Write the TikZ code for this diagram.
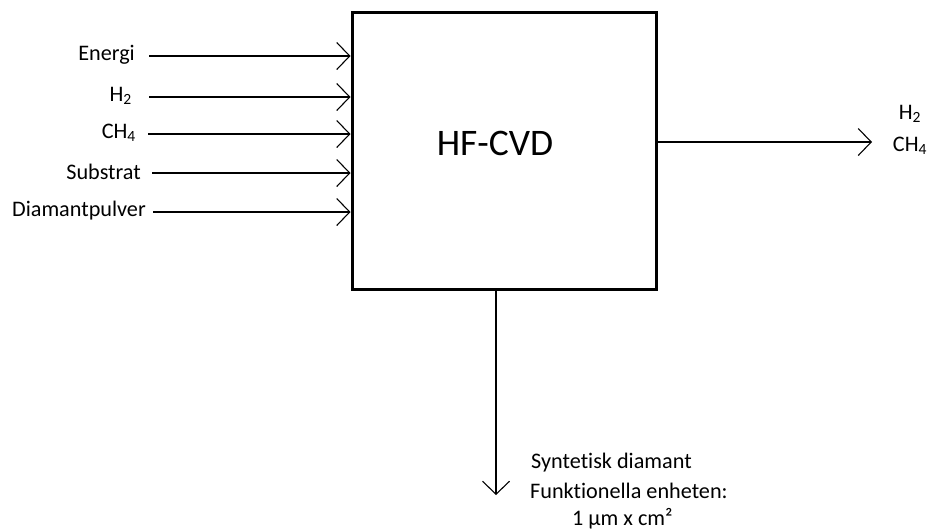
\documentclass[tikz,border=0pt]{standalone}
\usepackage{fontspec}
\setmainfont{Carlito}[Ligatures=NoCommon]
\usetikzlibrary{arrows.meta}
\begin{document}
\begin{tikzpicture}[x=1pt,y=-1pt,
  lbl/.style={font=\fontsize{22.2}{26}\selectfont, inner sep=0pt},
  arr/.style={line width=1.1pt, -{Straight Barb[length=13pt,width=27pt,line width=1.1pt]}},
  proc/.style={draw, line width=3pt, minimum width=304pt, minimum height=277pt, inner sep=0pt}]
\useasboundingbox (0,0) rectangle (928,531);
\node[proc] (box) at (504,150.5) {};
\node[font=\fontsize{37.5}{44}\selectfont, inner sep=0pt] (title) at (495,143) {HF-CVD};
% inputs
\node[lbl, anchor=east] (e) at (135,55) {Energi};
\node[lbl, anchor=east] (h) at (132,96) {H\textsubscript{2}};
\node[lbl, anchor=east] (c) at (136,133) {CH\textsubscript{4}};
\node[lbl, anchor=east] (s) at (141,172) {Substrat};
\node[lbl, anchor=east] (d) at (146,211) {Diamantpulver};
\coordinate (e0) at (149,56);
\coordinate (h0) at (149,97);
\coordinate (c0) at (148,134);
\coordinate (s0) at (152,173);
\coordinate (d0) at (153,212);
\foreach \p in {e0,h0,c0,s0,d0}
  \draw[arr] (\p) -- (box.west |- \p);
% output right
\coordinate (o1) at (656,142);
\coordinate (o2) at (872,142);
\draw[arr] (o1) -- (o2);
\node[lbl] (oh) at (910,114) {H\textsubscript{2}};
\node[lbl] (oc) at (910,146) {CH\textsubscript{4}};
% output down
\coordinate (p1) at (496,289);
\coordinate (p2) at (496,495);
\draw[arr] (box.south -| p1) -- (p2);
\node[lbl, anchor=west] (t1) at (531,463) {Syntetisk diamant};
\node[lbl, anchor=west] (t2) at (530,491) {Funktionella enheten:};
\node[lbl, anchor=west] (t3) at (572,519) {1 µm x cm²};
\end{tikzpicture}
\end{document}
